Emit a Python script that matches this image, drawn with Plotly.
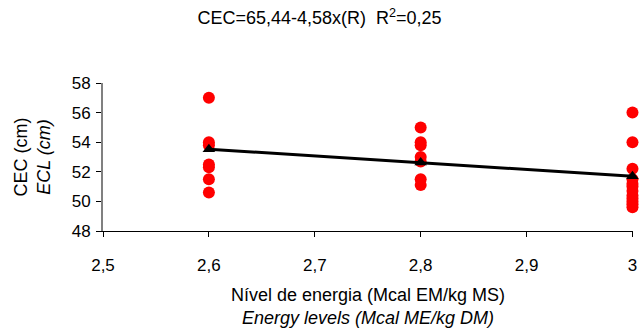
import plotly.graph_objects as go

# Observed values (cm) at each energy level
x_26 = [2.6] * 7
y_26 = [57.0, 54.0, 53.8, 52.5, 52.3, 51.5, 50.6]
x_28 = [2.8] * 7
y_28 = [55.0, 54.0, 53.8, 53.0, 52.7, 51.5, 51.1]
x_30 = [3.0] * 12
y_30 = [56.0, 54.0, 52.2, 51.5, 51.2, 51.0, 50.7, 50.4, 50.2, 50.0, 49.8, 49.6]

# Fitted regression values (triangles)
fit_x = [2.6, 2.8, 3.0]
fit_y = [53.53, 52.62, 51.70]

x_ticks = [2.5, 2.6, 2.7, 2.8, 2.9, 3.0]
x_tick_labels = ["2,5", "2,6", "2,7", "2,8", "2,9", "3"]
y_ticks = [48, 50, 52, 54, 56, 58]

obs_x = x_26 + x_28 + x_30
obs_y = y_26 + y_28 + y_30

FONT = "Liberation Sans, Arial, sans-serif"

fig = go.Figure()
fig.add_trace(go.Scatter(
    x=obs_x, y=obs_y, mode="markers",
    marker=dict(color="#ff0000", size=12, line=dict(width=0)),
    cliponaxis=False, showlegend=False, hoverinfo="skip",
))
fig.add_trace(go.Scatter(
    x=fit_x, y=fit_y, mode="lines+markers",
    line=dict(color="black", width=3),
    marker=dict(symbol="triangle-up", color="black", size=11),
    cliponaxis=False, showlegend=False, hoverinfo="skip",
))

fig.update_layout(
    width=639, height=329,
    margin=dict(l=103, r=6, t=83, b=98),
    paper_bgcolor="white", plot_bgcolor="white",
    font=dict(family=FONT, color="black", size=17),
    title=dict(
        text="CEC=65,44-4,58x(R)  R<sup>2</sup>=0,25",
        x=0.5, xanchor="center", y=0.945, yanchor="middle",
        font=dict(family=FONT, size=18, color="black"),
    ),
    xaxis=dict(
        range=[2.5, 3.0005], tickvals=x_ticks, ticktext=x_tick_labels,
        showgrid=False, zeroline=False, automargin=False,
        showline=True, linecolor="black", linewidth=1,
        ticks="outside", ticklen=5, tickcolor="black",
        ticklabelstandoff=14,
        tickfont=dict(size=17),
        title=dict(text="Nível de energia (Mcal EM/kg MS)<br><i>Energy levels (Mcal ME/kg DM)</i>",
                   font=dict(size=18), standoff=13),
    ),
    yaxis=dict(
        range=[48, 58], tickvals=y_ticks,
        showgrid=False, zeroline=False, automargin=False,
        showline=True, linecolor="#808080", linewidth=2,
        ticks="outside", ticklen=5, tickcolor="black",
        ticklabelstandoff=2,
        tickfont=dict(size=17),
        title=dict(text="CEC (cm)<br><i>ECL (cm)</i>", font=dict(size=18), standoff=16),
    ),
)

# remove the default page margin so the figure fills the 639x329 window exactly
fig.write_html(
    "out.html",
    config={"displayModeBar": False, "staticPlot": True},
    post_script="document.body.style.margin='0';document.body.style.overflow='hidden';",
)
